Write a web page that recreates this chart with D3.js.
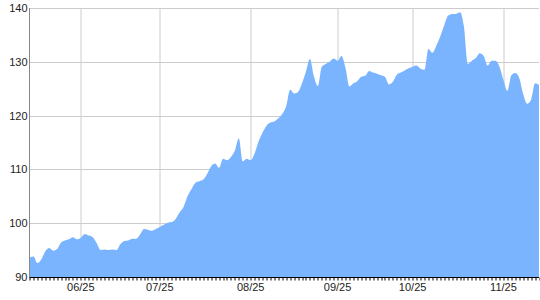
<!DOCTYPE html>
<meta charset="utf-8">
<style>
  body { margin: 0; background: #fff; }
  text { font-family: "Liberation Sans", Arial, sans-serif; font-size: 11px; fill: #222; }
</style>
<script src="https://d3js.org/d3.v7.min.js"></script>
<div id="my_dataviz"></div>
<script>
    // daily closing values, one per trading day
    var values = [
      93.6, 93.8, 92.6, 93.3, 94.8, 95.4, 94.9, 95.2, 96.4, 96.8,
      97.0, 97.4, 97.0, 97.3, 98.0, 97.7, 97.4, 96.3, 95.0, 95.1,
      95.0, 95.1, 95.0, 96.1, 96.7, 96.8, 97.1, 97.1, 97.9, 98.9,
      98.8, 98.6, 98.9, 99.3, 99.7, 100.1, 100.2, 100.8, 102.0, 103.0,
      105.0, 106.3, 107.5, 107.8, 108.1, 109.2, 110.6, 111.1, 110.3, 112.0,
      111.7, 112.3, 113.5, 115.8, 111.5, 112.0, 111.7, 113.0, 115.2, 116.8,
      118.1, 118.7, 118.9, 119.5, 120.3, 121.8, 124.8, 124.1, 124.4, 126.0,
      128.2, 130.5, 127.3, 125.5, 129.1, 129.6, 130.0, 130.6, 130.2, 131.1,
      128.9, 125.4, 126.0, 126.4, 127.2, 127.4, 128.3, 128.0, 127.8, 127.5,
      127.2, 125.8, 126.3, 127.6, 128.0, 128.4, 128.8, 129.1, 129.3, 128.7,
      128.5, 132.4, 131.7, 133.0, 134.7, 136.8, 138.6, 138.9, 138.9, 139.2,
      136.5, 129.6, 130.2, 130.7, 131.6, 131.1, 129.3, 130.2, 130.2, 129.1,
      126.6, 124.6, 127.5, 127.9, 127.0, 124.0, 122.2, 123.0, 126.0, 125.7
    ];

    // labelled days (index into values) and their labels
    var tickIndex = [13, 33, 56, 78, 97, 120];
    var tickLabels = ["06/25", "07/25", "08/25", "09/25", "10/25", "11/25"];
    var yTicks = [90, 100, 110, 120, 130, 140];

    var margin = {top: 8, right: 1, bottom: 23, left: 29.5},
        width = 540 - margin.left - margin.right,
        height = 300 - margin.top - margin.bottom;

    var svg = d3.select("#my_dataviz")
      .append("svg")
        .attr("width", 540)
        .attr("height", 300)
      .append("g")
        .attr("transform", "translate(" + margin.left + "," + margin.top + ")");

    var x = d3.scaleLinear()
      .domain([0, values.length - 1])
      .range([0, width]);

    var y = d3.scaleLinear()
      .domain([90, 140])
      .range([height, 0]);

    // grid
    svg.append("g")
      .selectAll("line.h")
      .data(yTicks)
      .enter()
      .append("line")
        .attr("x1", 0)
        .attr("x2", width)
        .attr("y1", function(d) { return Math.round(y(d)) + 0.5 })
        .attr("y2", function(d) { return Math.round(y(d)) + 0.5 })
        .attr("stroke", "#cccccc")
    svg.append("g")
      .selectAll("line.v")
      .data(tickIndex)
      .enter()
      .append("line")
        .attr("x1", function(d) { return Math.round(x(d)) + 0.5 })
        .attr("x2", function(d) { return Math.round(x(d)) + 0.5 })
        .attr("y1", 0)
        .attr("y2", height)
        .attr("stroke", "#cccccc")

    // area
    svg.append("path")
      .datum(values)
      .attr("fill", "#7ab4ff")
      .attr("d", d3.area()
        .curve(d3.curveMonotoneX)
        .x(function(d, i) { return x(i) })
        .y0(y(90))
        .y1(function(d) { return y(d) })
      )

    // y axis
    svg.append("line")
      .attr("x1", 0).attr("x2", 0)
      .attr("y1", 0).attr("y2", height)
      .attr("stroke", "#888888")
    svg.append("g")
      .selectAll("text")
      .data(yTicks)
      .enter()
      .append("text")
        .attr("x", -2)
        .attr("y", function(d) { return y(d) + 4 })
        .attr("text-anchor", "end")
        .text(function(d) { return d })

    // x axis: a tick for every day
    var xAxis = svg.append("g")
      .attr("transform", "translate(0," + (Math.round(height) + 0.5) + ")")
    xAxis.append("line")
      .attr("x1", 0).attr("x2", width)
      .attr("stroke", "#000")
    xAxis.selectAll("line.tick")
      .data(values)
      .enter()
      .append("line")
        .attr("x1", function(d, i) { return Math.round(x(i)) + 0.5 })
        .attr("x2", function(d, i) { return Math.round(x(i)) + 0.5 })
        .attr("y1", 0)
        .attr("y2", 3)
        .attr("stroke", "#000")
    xAxis.selectAll("text")
      .data(tickIndex)
      .enter()
      .append("text")
        .attr("x", function(d) { return x(d) })
        .attr("y", 13.5)
        .attr("text-anchor", "middle")
        .text(function(d, i) { return tickLabels[i] })
</script>
